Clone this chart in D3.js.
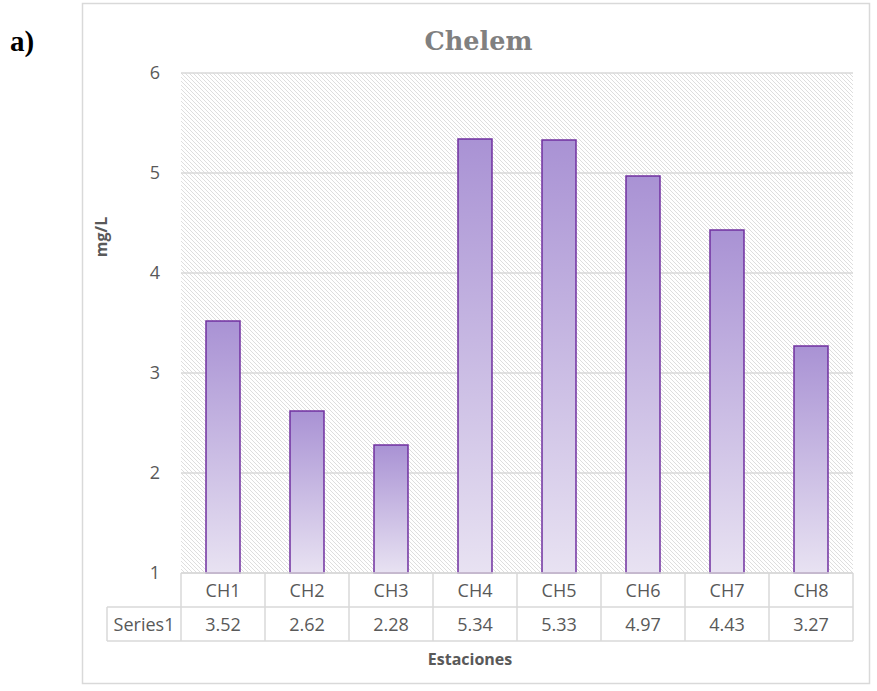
<!DOCTYPE html>
<html><head><meta charset="utf-8">
<script src="https://cdn.jsdelivr.net/npm/d3@7"></script>
<style>body{margin:0;background:#fff;}</style>
</head><body>
<svg id="c" width="877" height="691"></svg>
<script>
const categories = ["CH1","CH2","CH3","CH4","CH5","CH6","CH7","CH8"];
const values = [3.52,2.62,2.28,5.34,5.33,4.97,4.43,3.27];
const yTicks = [1,2,3,4,5,6];
const seriesName = "Series1";

const svg = d3.select("#c");
const L = 181, R = 853, T = 73, B = 573;
const font = "'Open Sans', sans-serif";

const defs = svg.append("defs");
const pat = defs.append("pattern").attr("id","hatch").attr("patternUnits","userSpaceOnUse")
  .attr("width",4).attr("height",4);
pat.append("rect").attr("width",4).attr("height",4).attr("fill","#ffffff");
pat.append("path").attr("d","M-1,-1 L5,5 M-1,3 L1,5 M3,-1 L5,1").attr("stroke","#dedede").attr("stroke-width",1);
const grad = defs.append("linearGradient").attr("id","bg").attr("x1",0).attr("y1",0).attr("x2",0).attr("y2",1);
grad.append("stop").attr("offset","0%").attr("stop-color","#a992d4");
grad.append("stop").attr("offset","100%").attr("stop-color","#e8e2f2");

// outer border
svg.append("rect").attr("x",82.5).attr("y",3.5).attr("width",787).attr("height",680)
  .attr("fill","none").attr("stroke","#d9d9d9").attr("stroke-width",1.5);

svg.append("text").attr("x",10).attr("y",51).text("a)")
  .attr("font-family","'Liberation Serif', serif").attr("font-weight","bold").attr("font-size",29).attr("fill","#000");

svg.append("text").attr("x",478.5).attr("y",50).attr("text-anchor","middle").text("Chelem")
  .attr("font-family","'DejaVu Serif', serif").attr("font-weight","bold").attr("font-size",25.5).attr("fill","#808080");

const xc = d3.scaleBand().domain(categories).range([L,R]);
const y = d3.scaleLinear().domain([1,6]).range([B,T]);

svg.append("rect").attr("x",L).attr("y",T).attr("width",R-L).attr("height",B-T).attr("fill","url(#hatch)");

svg.append("g").selectAll("line").data(yTicks).join("line")
  .attr("x1",L).attr("x2",R).attr("y1",d=>y(d)).attr("y2",d=>y(d))
  .attr("stroke","#d9d9d9").attr("stroke-width",1.3);

const yAxis = svg.append("g").attr("transform",`translate(${L},0)`)
  .call(d3.axisLeft(y).tickValues(yTicks).tickSize(0).tickPadding(21).tickFormat(d3.format("d")));
yAxis.select(".domain").remove();
yAxis.selectAll("text").attr("font-family",font).attr("font-size",18).attr("fill","#595959");

const bw = 34;
svg.append("g").selectAll("rect").data(values).join("rect")
  .attr("x",(d,i)=>xc(categories[i])+xc.bandwidth()/2-bw/2)
  .attr("y",d=>y(d)).attr("width",bw).attr("height",d=>y(1)-y(d))
  .attr("fill","url(#bg)").attr("stroke","#7030a0").attr("stroke-width",1.5);

// data table
const r1 = B, r2 = 607, r3 = 641, tl = 107;
const tg = svg.append("g").attr("stroke","#d9d9d9").attr("stroke-width",1.5).attr("fill","none");
tg.append("line").attr("x1",L).attr("x2",R).attr("y1",r1).attr("y2",r1);
tg.append("line").attr("x1",tl).attr("x2",R).attr("y1",r2).attr("y2",r2);
tg.append("line").attr("x1",tl).attr("x2",R).attr("y1",r3).attr("y2",r3);
tg.append("line").attr("x1",tl).attr("x2",tl).attr("y1",r2).attr("y2",r3);
tg.selectAll(".v").data(categories.concat(["end"])).join("line")
  .attr("x1",(d,i)=>L+i*xc.bandwidth()).attr("x2",(d,i)=>L+i*xc.bandwidth())
  .attr("y1",r1).attr("y2",r3);

svg.append("g").selectAll("text").data(categories).join("text")
  .attr("x",d=>xc(d)+xc.bandwidth()/2).attr("y",(r1+r2)/2+6.5).attr("text-anchor","middle").text(d=>d)
  .attr("font-family",font).attr("font-size",18).attr("fill","#595959");
svg.append("g").selectAll("text").data(values).join("text")
  .attr("x",(d,i)=>xc(categories[i])+xc.bandwidth()/2).attr("y",(r2+r3)/2+6.5).attr("text-anchor","middle")
  .text(d=>d.toFixed(2))
  .attr("font-family",font).attr("font-size",18).attr("fill","#595959");
svg.append("text").attr("x",(tl+L)/2).attr("y",(r2+r3)/2+6.5).attr("text-anchor","middle").text(seriesName)
  .attr("font-family",font).attr("font-size",18).attr("fill","#595959");

svg.append("text").attr("x",470).attr("y",665).attr("text-anchor","middle").text("Estaciones")
  .attr("font-family",font).attr("font-weight","bold").attr("font-size",16).attr("fill","#595959");
svg.append("text").attr("transform","translate(107,237) rotate(-90)").attr("text-anchor","middle").text("mg/L")
  .attr("font-family",font).attr("font-weight","bold").attr("font-size",16).attr("fill","#595959");
</script>
</body></html>
